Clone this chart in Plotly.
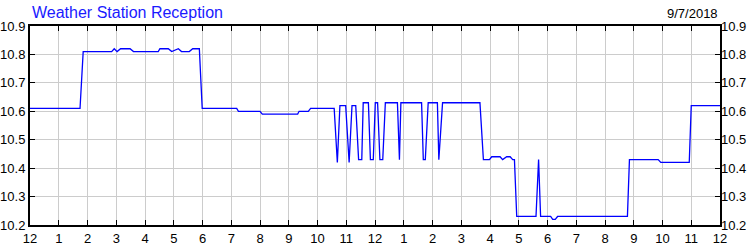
import plotly.graph_objects as go

# Time of day in hours (0 = 12 midnight) and reception values
hours = [0, 1.74, 1.85, 2.84, 2.93, 3.03, 3.15, 3.48, 3.6, 4.46, 4.52, 4.81, 4.93,
         5.16, 5.27, 5.54, 5.66, 5.89, 5.99, 7.19, 7.25, 8.0, 8.08, 9.31, 9.36,
         9.68, 9.76, 10.58, 10.69, 10.78, 10.98, 11.1, 11.2, 11.33, 11.43, 11.54,
         11.59, 11.77, 11.84, 11.94, 12.01, 12.09, 12.17, 12.27, 12.36, 12.78,
         12.85, 12.9, 13.62, 13.68, 13.75, 13.85, 14.17, 14.22, 14.35, 15.65,
         15.77, 15.98, 16.06, 16.35, 16.44, 16.58, 16.7, 16.79, 16.85, 16.93,
         17.6, 17.69, 17.76, 18.11, 18.18, 18.27, 18.35, 20.78, 20.85, 21.85,
         21.94, 22.93, 23.0, 24.0]
values = [10.61, 10.61, 10.81, 10.81, 10.82, 10.81, 10.82, 10.82, 10.81, 10.81,
          10.82, 10.82, 10.81, 10.82, 10.81, 10.81, 10.82, 10.82, 10.61, 10.61,
          10.60, 10.60, 10.59, 10.59, 10.60, 10.60, 10.61, 10.61, 10.42, 10.62,
          10.62, 10.42, 10.62, 10.62, 10.43, 10.43, 10.63, 10.63, 10.43, 10.43,
          10.63, 10.63, 10.43, 10.43, 10.63, 10.63, 10.43, 10.63, 10.63, 10.43,
          10.43, 10.63, 10.63, 10.43, 10.63, 10.63, 10.43, 10.43, 10.44, 10.44,
          10.43, 10.44, 10.44, 10.43, 10.43, 10.23, 10.23, 10.43, 10.23, 10.23,
          10.22, 10.22, 10.23, 10.23, 10.43, 10.43, 10.42, 10.42, 10.62, 10.62]

x_tickvals = list(range(0, 25))
x_ticktext = ["12", "1", "2", "3", "4", "5", "6", "7", "8", "9", "10", "11",
              "12", "1", "2", "3", "4", "5", "6", "7", "8", "9", "10", "11", "12"]
y_tickvals = [10.2, 10.3, 10.4, 10.5, 10.6, 10.7, 10.8, 10.9]

title_text = "Weather Station Reception"
date_text = "9/7/2018"

FONT = "Liberation Sans, Arial, sans-serif"

fig = go.Figure()
# invisible copy on the right-hand axis so its labels are drawn
fig.add_trace(go.Scatter(x=hours, y=values, mode="lines", yaxis="y2",
                         line=dict(color="rgba(0,0,0,0)", width=0),
                         showlegend=False, hoverinfo="skip"))
fig.add_trace(go.Scatter(x=hours, y=values, mode="lines",
                         line=dict(color="#0000ff", width=1.3),
                         showlegend=False, hoverinfo="skip"))

fig.update_layout(
    width=750, height=250,
    margin=dict(l=30, r=30, t=26, b=25),
    paper_bgcolor="white", plot_bgcolor="white",
    font=dict(family=FONT, size=13, color="black"),
    xaxis=dict(range=[0, 24], tickvals=x_tickvals, ticktext=x_ticktext,
               showgrid=True, gridcolor="#cccccc", gridwidth=1,
               showline=True, linecolor="black", linewidth=2, mirror="ticks",
               ticks="inside", ticklen=5, tickcolor="black", tickwidth=1,
               zeroline=False, automargin=False,
               tickfont=dict(size=13, color="black")),
    yaxis=dict(range=[10.2, 10.9], tickvals=y_tickvals, tickformat=".1f",
               showgrid=True, gridcolor="#cccccc", gridwidth=1,
               showline=True, linecolor="black", linewidth=2, mirror="ticks",
               ticks="inside", ticklen=5, tickcolor="black", tickwidth=1,
               zeroline=False, automargin=False,
               tickfont=dict(size=13, color="black")),
    yaxis2=dict(range=[10.2, 10.9], tickvals=y_tickvals, tickformat=".1f",
                overlaying="y", side="right", showgrid=False, showline=False,
                ticks="", zeroline=False, automargin=False,
                tickfont=dict(size=13, color="black")),
    annotations=[
        dict(text=title_text, xref="paper", yref="paper", x=0.0, y=1.0,
             xanchor="left", yanchor="bottom", yshift=3, showarrow=False,
             font=dict(family=FONT, size=16, color="#1a1aff")),
        dict(text=date_text, xref="paper", yref="paper", x=1.0, y=1.0,
             xanchor="right", yanchor="bottom", yshift=3, showarrow=False,
             font=dict(family=FONT, size=13, color="black")),
    ],
)

fig.write_html("out.html")
